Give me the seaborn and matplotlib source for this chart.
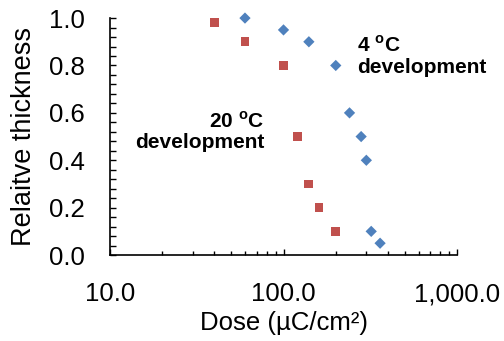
import numpy as np
import pandas as pd
import matplotlib
matplotlib.use("Agg")
import matplotlib.pyplot as plt
import seaborn as sns
from matplotlib.ticker import FuncFormatter, LogLocator, MultipleLocator, NullFormatter

# ---- data ----
dose_4c = [60, 100, 140, 200, 240, 280, 300, 320, 360]
thick_4c = [1.0, 0.95, 0.9, 0.8, 0.6, 0.5, 0.4, 0.1, 0.05]

dose_20c = [40, 60, 100, 120, 140, 160, 200]
thick_20c = [0.98, 0.9, 0.8, 0.5, 0.3, 0.2, 0.1]

label_4c = "4 $^{\\mathbf{o}}$C\ndevelopment"
label_20c = "20 $^{\\mathbf{o}}$C\ndevelopment"

blue = "#4F81BD"
red = "#C0504D"

# ---- style ----
sns.set_style("ticks")
plt.rcParams["font.family"] = ["Liberation Sans", "DejaVu Sans"]
plt.rcParams["mathtext.fontset"] = "custom"
plt.rcParams["mathtext.bf"] = "Liberation Sans:bold"
plt.rcParams["mathtext.rm"] = "Liberation Sans"
for key in ["text.color", "axes.labelcolor", "xtick.color", "ytick.color"]:
    plt.rcParams[key] = "black"

fig = plt.figure(figsize=(5.04, 3.41), dpi=100)
ax = fig.add_axes([0.218, 0.252, 0.689, 0.695])

sns.scatterplot(x=dose_4c, y=thick_4c, marker="D", s=33, color=blue,
                edgecolor="none", clip_on=False, zorder=3, ax=ax)
sns.scatterplot(x=dose_20c, y=thick_20c, marker="s", s=40, color=red,
                edgecolor="none", clip_on=False, zorder=3, ax=ax)

ax.set_xscale("log")
ax.set_xlim(10, 1000)
ax.set_ylim(0, 1.0)

# ticks
ax.xaxis.set_major_locator(LogLocator(base=10, numticks=5))
ax.xaxis.set_minor_locator(LogLocator(base=10, subs=np.arange(2, 10), numticks=20))
ax.xaxis.set_major_formatter(FuncFormatter(lambda v, p: f"{v:,.1f}"))
ax.xaxis.set_minor_formatter(NullFormatter())
ax.yaxis.set_major_locator(MultipleLocator(0.2))
ax.yaxis.set_minor_locator(MultipleLocator(0.04))
ax.yaxis.set_major_formatter(FuncFormatter(lambda v, p: f"{v:.1f}"))

ax.tick_params(axis="x", which="major", direction="in", length=4.5, width=1.0,
               pad=19.5, labelsize=18.5)
ax.tick_params(axis="x", which="minor", direction="in", length=3, width=1.0)
ax.tick_params(axis="y", which="major", direction="in", length=4.5, width=1.0,
               pad=18, labelsize=18.5)
ax.tick_params(axis="y", which="minor", direction="in", length=4, width=1.0)

sns.despine(ax=ax)
for side in ["left", "bottom"]:
    ax.spines[side].set_linewidth(1.2)
    ax.spines[side].set_color("black")

ax.set_xlabel("Dose (µC/cm²)", fontsize=18.5)
ax.set_ylabel("Relaitve thickness", fontsize=19.5)
ax.xaxis.set_label_coords(0.5, -0.238)
ax.yaxis.set_label_coords(-0.21, 0.5)

ax.text(0.712, 0.93, label_4c, transform=ax.transAxes, ha="left", va="top",
        fontsize=15, fontweight="bold", linespacing=1.15)
ax.text(0.444, 0.61, label_20c, transform=ax.transAxes, ha="right", va="top",
        fontsize=15, fontweight="bold", linespacing=1.15, multialignment="right")

fig.savefig("out.png", dpi=100)
